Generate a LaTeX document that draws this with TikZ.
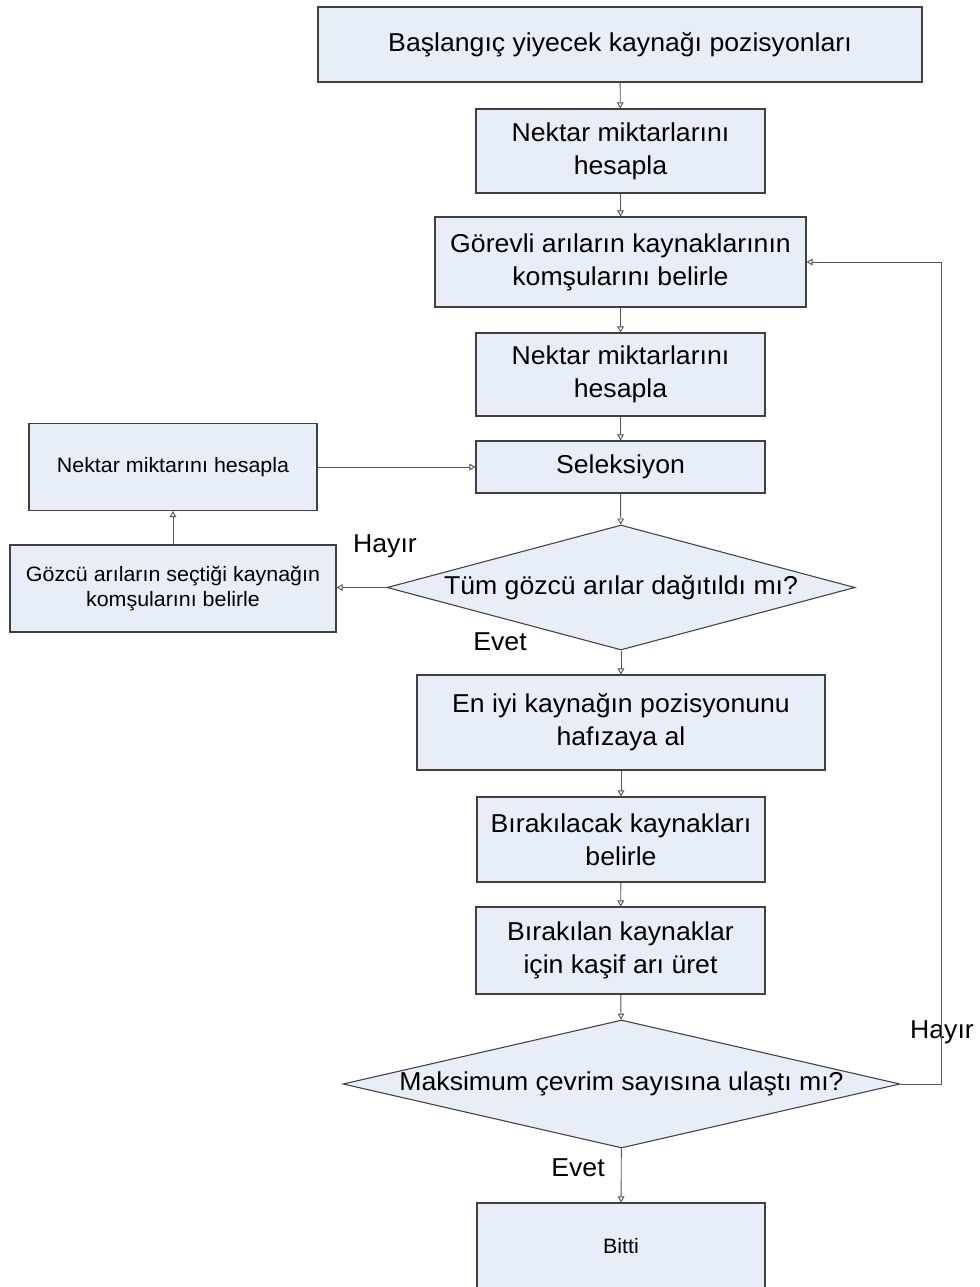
\documentclass[tikz,border=0pt]{standalone}
\usepackage{fontspec}
\setmainfont[FakeStretch=1.03]{Liberation Sans}
\usetikzlibrary{arrows.meta,shapes.geometric}
\definecolor{boxfill}{RGB}{232,238,247}
\definecolor{edgegray}{RGB}{64,64,64}
\definecolor{wiregray}{RGB}{85,85,85}
\newcommand\flowbig{\fontsize{19.4}{24.75}\selectfont}
\newcommand\flowsmall{\fontsize{15.6}{18.5}\selectfont}

\begin{document}
\begin{tikzpicture}[x=0.75pt,y=-0.75pt,
  stepbox/.style={draw=edgegray, line width=0.8pt, fill=boxfill, align=center,
    inner sep=0pt, font=\flowbig},
  smallbox/.style={stepbox, font=\flowsmall},
  decision/.style={diamond, draw=edgegray, line width=0.8pt, fill=boxfill,
    inner sep=0pt, font=\flowbig},
  flow/.style={draw=wiregray, line width=0.7pt,
    -{Triangle[open,length=4.5pt,width=5pt]}},
  tag/.style={font=\flowbig, inner sep=0pt}
]
\useasboundingbox (0,0) rectangle (980,1287);
\clip (0,0) rectangle (980,1287);

% main column
\node[stepbox, minimum width=453pt, minimum height=56.25pt] (start) at (620,44.5)
  {Başlangıç yiyecek kaynağı pozisyonları};
\node[stepbox, minimum width=216.75pt, minimum height=63pt] (nek1) at (620.5,151)
  {Nektar miktarlarını\\hesapla};
\node[stepbox, minimum width=278.25pt, minimum height=67.5pt] (komsu) at (620.5,262)
  {Görevli arıların kaynaklarının\\komşularını belirle};
\node[stepbox, minimum width=216.75pt, minimum height=62.25pt] (nek2) at (620.5,374.5)
  {Nektar miktarlarını\\hesapla};
\node[stepbox, minimum width=216.75pt, minimum height=39pt] (sel) at (620.5,467)
  {Seleksiyon};
\node[decision, aspect=3.74, minimum width=351pt, minimum height=93.75pt] (d1) at (621,587.5)
  {Tüm gözcü arılar dağıtıldı mı?};
\node[stepbox, minimum width=306pt, minimum height=71.25pt] (best) at (621,722.5)
  {En iyi kaynağın pozisyonunu\\hafızaya al};
\node[stepbox, minimum width=216pt, minimum height=63.75pt] (leave) at (621,839.5)
  {Bırakılacak kaynakları\\belirle};
\node[stepbox, minimum width=216.75pt, minimum height=65.25pt] (scout) at (620.5,950.5)
  {Bırakılan kaynaklar\\için kaşif arı üret};
\node[decision, aspect=4.35, minimum width=417.75pt, minimum height=96pt] (d2) at (621.5,1084)
  {Maksimum çevrim sayısına ulaştı mı?};
\node[smallbox, minimum width=216pt, minimum height=65.25pt] (end) at (621,1246.5)
  {Bitti};

% onlooker branch
\node[smallbox, minimum width=216pt, minimum height=65.25pt] (nekl) at (173,467)
  {Nektar miktarını hesapla};
\node[smallbox, minimum width=244.5pt, minimum height=65.25pt] (gozcu) at (173,588.5)
  {Gözcü arıların seçtiği kaynağın\\komşularını belirle};

% branch labels
\node[tag] (h1) at (385,546) {Hayır};
\node[tag] (e1) at (500,642) {Evet};
\node[tag] (h2) at (942,1032) {Hayır};
\node[tag] (e2) at (578,1168) {Evet};

% connectors
\draw[flow] (start) -- (nek1);
\draw[flow] (nek1) -- (komsu);
\draw[flow] (komsu) -- (nek2);
\draw[flow] (nek2) -- (sel);
\draw[flow] (sel) -- (d1);
\draw[flow] (d1) -- (best);
\draw[flow] (best) -- (leave);
\draw[flow] (leave) -- (scout);
\draw[flow] (scout) -- (d2);
\draw[flow] (d2) -- (end);
\draw[flow] (d1.west) -- (d1.west -| gozcu.east);
\draw[flow] (gozcu) -- (nekl);
\draw[flow] (nekl) -- (sel);
\coordinate (turn) at (941,1084);
\draw[flow] (d2.east) -- (turn) |- (komsu.east);
\end{tikzpicture}
\end{document}
